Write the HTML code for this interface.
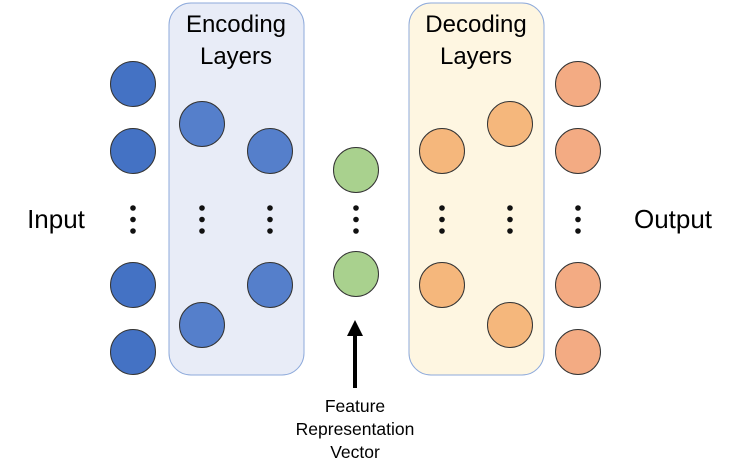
<!DOCTYPE html>
<html><head><style>html,body{margin:0;padding:0;background:#fff}svg{display:block}</style></head>
<body>
<svg width="735" height="460" viewBox="0 0 735 460" xmlns="http://www.w3.org/2000/svg" font-family="Liberation Sans, sans-serif">
<rect x="169" y="3" width="135" height="372" rx="22" fill="#e8ecf7" stroke="#8eaadb" stroke-width="1"/>
<rect x="409" y="3" width="135" height="372" rx="22" fill="#fef6e1" stroke="#8eaadb" stroke-width="1"/>
<g font-size="24" text-anchor="middle" fill="#000">
<text x="236" y="32">Encoding</text><text x="236" y="64">Layers</text>
<text x="476" y="32">Decoding</text><text x="476" y="64">Layers</text>
</g>
<text x="56" y="228" font-size="26" text-anchor="middle">Input</text>
<text x="673" y="228" font-size="26" text-anchor="middle">Output</text>
<g stroke="#333" stroke-width="1">
<g fill="#4472c4"><circle cx="133" cy="84" r="22.5"/><circle cx="133" cy="151" r="22.5"/><circle cx="133" cy="285" r="22.5"/><circle cx="133" cy="352" r="22.5"/></g>
<g fill="#557fcb"><circle cx="202" cy="124" r="22.5"/><circle cx="202" cy="325" r="22.5"/><circle cx="270" cy="151" r="22.5"/><circle cx="270" cy="285" r="22.5"/></g>
<g fill="#a9d18e"><circle cx="356" cy="170" r="22.5"/><circle cx="356" cy="274" r="22.5"/></g>
<g fill="#f5b77c"><circle cx="442" cy="151" r="22.5"/><circle cx="442" cy="285" r="22.5"/><circle cx="510" cy="124" r="22.5"/><circle cx="510" cy="325" r="22.5"/></g>
<g fill="#f3ab83"><circle cx="578" cy="84" r="22.5"/><circle cx="578" cy="151" r="22.5"/><circle cx="578" cy="285" r="22.5"/><circle cx="578" cy="352" r="22.5"/></g>
</g>
<g fill="#111">
<g id="d"><circle cx="133" cy="208" r="2.8"/><circle cx="133" cy="219.5" r="2.8"/><circle cx="133" cy="231" r="2.8"/></g>
<use href="#d" x="69"/><use href="#d" x="137"/><use href="#d" x="223"/>
<use href="#d" x="309"/><use href="#d" x="377"/><use href="#d" x="445"/>
</g>
<line x1="355" y1="388" x2="355" y2="334" stroke="#000" stroke-width="4"/>
<polygon points="355,320 347,336 363,336" fill="#000"/>
<g font-size="17.5" text-anchor="middle">
<text x="355" y="412">Feature</text><text x="355" y="435">Representation</text><text x="355" y="458">Vector</text>
</g>
</svg>
</body></html>
